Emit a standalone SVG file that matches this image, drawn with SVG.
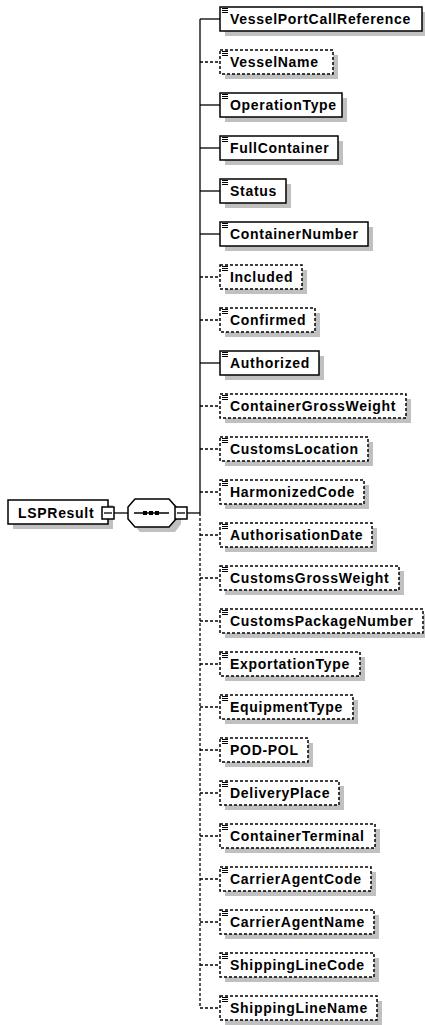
<svg xmlns="http://www.w3.org/2000/svg" width="425" height="1025" viewBox="0 0 425 1025">
<style>
.bg{fill:#ffffff}
.sh{fill:#c0c0c0}
.box{fill:#ffffff;stroke:#000000;stroke-width:1.5}
.opt{stroke-dasharray:3,2}
.ic{stroke:#000000;stroke-width:1;fill:none}
.t{font-family:"Liberation Sans",Arial,sans-serif;font-weight:bold;font-size:14px;letter-spacing:0.7px;fill:#000000}
.ln{stroke:#000000;stroke-width:1.3;fill:none}
.dl{stroke-dasharray:3,2}
.dot{fill:#000000}
</style>
<defs>
<path id="icon" d="M2,1.5h6M2,3.5h6M2,5.5h6" class="ic"/>
</defs>
<rect class="bg" x="0" y="0" width="425" height="1025"/>
<g id="connectors">
<line class="ln" x1="114" y1="513" x2="128" y2="513"/>
<line class="ln" x1="187" y1="513" x2="200" y2="513"/>
<line class="ln" x1="200" y1="19" x2="200" y2="513"/>
<line class="ln dl" x1="200" y1="513" x2="200" y2="1008"/>
<line class="ln" x1="200" y1="19" x2="220" y2="19"/>
<line class="ln dl" x1="200" y1="62" x2="220" y2="62"/>
<line class="ln" x1="200" y1="105" x2="220" y2="105"/>
<line class="ln" x1="200" y1="148" x2="220" y2="148"/>
<line class="ln" x1="200" y1="191" x2="220" y2="191"/>
<line class="ln" x1="200" y1="234" x2="220" y2="234"/>
<line class="ln dl" x1="200" y1="277" x2="220" y2="277"/>
<line class="ln dl" x1="200" y1="320" x2="220" y2="320"/>
<line class="ln" x1="200" y1="363" x2="220" y2="363"/>
<line class="ln dl" x1="200" y1="406" x2="220" y2="406"/>
<line class="ln dl" x1="200" y1="449" x2="220" y2="449"/>
<line class="ln dl" x1="200" y1="492" x2="220" y2="492"/>
<line class="ln dl" x1="200" y1="535" x2="220" y2="535"/>
<line class="ln dl" x1="200" y1="578" x2="220" y2="578"/>
<line class="ln dl" x1="200" y1="621" x2="220" y2="621"/>
<line class="ln dl" x1="200" y1="664" x2="220" y2="664"/>
<line class="ln dl" x1="200" y1="707" x2="220" y2="707"/>
<line class="ln dl" x1="200" y1="750" x2="220" y2="750"/>
<line class="ln dl" x1="200" y1="793" x2="220" y2="793"/>
<line class="ln dl" x1="200" y1="836" x2="220" y2="836"/>
<line class="ln dl" x1="200" y1="879" x2="220" y2="879"/>
<line class="ln dl" x1="200" y1="922" x2="220" y2="922"/>
<line class="ln dl" x1="200" y1="965" x2="220" y2="965"/>
<line class="ln dl" x1="200" y1="1008" x2="220" y2="1008"/>
</g>
<g id="LSPResult">
<rect class="sh" x="13" y="505" width="100" height="24"/>
<rect class="box" x="8" y="500" width="100" height="24"/>
<text class="t" x="18" y="518">LSPResult</text>
<rect class="box" x="102" y="507" width="12" height="12"/>
<line class="ln" x1="104" y1="513" x2="112" y2="513"/>
</g>
<g id="sequence">
<polygon class="sh" points="140,504 175,504 181,512 181,524 175,532 140,532 133,524 133,512"/>
<polygon class="box" points="135,499 169,499 176,507 176,519 169,527 135,527 128,519 128,507"/>
<line class="ln" x1="134" y1="513" x2="169" y2="513"/>
<rect class="dot" x="143" y="511" width="4" height="4"/>
<rect class="dot" x="149" y="511" width="4" height="4"/>
<rect class="dot" x="155" y="511" width="4" height="4"/>
<rect class="box" x="175" y="507" width="12" height="12"/>
<line class="ln" x1="177" y1="513" x2="185" y2="513"/>
</g>
<g id="VesselPortCallReference"><rect class="sh" x="225" y="12" width="202" height="24"/><rect class="box" x="220" y="7" width="202" height="24"/><use href="#icon" x="220" y="7"/><text class="t" x="230" y="24">VesselPortCallReference</text></g>
<g id="VesselName"><rect class="sh" x="225" y="55" width="113" height="24"/><rect class="box opt" x="220" y="50" width="113" height="24"/><use href="#icon" x="220" y="50"/><text class="t" x="230" y="67">VesselName</text></g>
<g id="OperationType"><rect class="sh" x="225" y="98" width="122" height="24"/><rect class="box" x="220" y="93" width="122" height="24"/><use href="#icon" x="220" y="93"/><text class="t" x="230" y="110">OperationType</text></g>
<g id="FullContainer"><rect class="sh" x="225" y="141" width="118" height="24"/><rect class="box" x="220" y="136" width="118" height="24"/><use href="#icon" x="220" y="136"/><text class="t" x="230" y="153">FullContainer</text></g>
<g id="Status"><rect class="sh" x="225" y="184" width="66" height="24"/><rect class="box" x="220" y="179" width="66" height="24"/><use href="#icon" x="220" y="179"/><text class="t" x="230" y="196">Status</text></g>
<g id="ContainerNumber"><rect class="sh" x="225" y="227" width="148" height="24"/><rect class="box" x="220" y="222" width="148" height="24"/><use href="#icon" x="220" y="222"/><text class="t" x="230" y="239">ContainerNumber</text></g>
<g id="Included"><rect class="sh" x="225" y="270" width="82" height="24"/><rect class="box opt" x="220" y="265" width="82" height="24"/><use href="#icon" x="220" y="265"/><text class="t" x="230" y="282">Included</text></g>
<g id="Confirmed"><rect class="sh" x="225" y="313" width="95" height="24"/><rect class="box opt" x="220" y="308" width="95" height="24"/><use href="#icon" x="220" y="308"/><text class="t" x="230" y="325">Confirmed</text></g>
<g id="Authorized"><rect class="sh" x="225" y="356" width="99" height="24"/><rect class="box" x="220" y="351" width="99" height="24"/><use href="#icon" x="220" y="351"/><text class="t" x="230" y="368">Authorized</text></g>
<g id="ContainerGrossWeight"><rect class="sh" x="225" y="399" width="186" height="24"/><rect class="box opt" x="220" y="394" width="186" height="24"/><use href="#icon" x="220" y="394"/><text class="t" x="230" y="411">ContainerGrossWeight</text></g>
<g id="CustomsLocation"><rect class="sh" x="225" y="442" width="148" height="24"/><rect class="box opt" x="220" y="437" width="148" height="24"/><use href="#icon" x="220" y="437"/><text class="t" x="230" y="454">CustomsLocation</text></g>
<g id="HarmonizedCode"><rect class="sh" x="225" y="485" width="144" height="24"/><rect class="box opt" x="220" y="480" width="144" height="24"/><use href="#icon" x="220" y="480"/><text class="t" x="230" y="497">HarmonizedCode</text></g>
<g id="AuthorisationDate"><rect class="sh" x="225" y="528" width="152" height="24"/><rect class="box opt" x="220" y="523" width="152" height="24"/><use href="#icon" x="220" y="523"/><text class="t" x="230" y="540">AuthorisationDate</text></g>
<g id="CustomsGrossWeight"><rect class="sh" x="225" y="571" width="179" height="24"/><rect class="box opt" x="220" y="566" width="179" height="24"/><use href="#icon" x="220" y="566"/><text class="t" x="230" y="583">CustomsGrossWeight</text></g>
<g id="CustomsPackageNumber"><rect class="sh" x="225" y="614" width="203" height="24"/><rect class="box opt" x="220" y="609" width="203" height="24"/><use href="#icon" x="220" y="609"/><text class="t" x="230" y="626">CustomsPackageNumber</text></g>
<g id="ExportationType"><rect class="sh" x="225" y="657" width="140" height="24"/><rect class="box opt" x="220" y="652" width="140" height="24"/><use href="#icon" x="220" y="652"/><text class="t" x="230" y="669">ExportationType</text></g>
<g id="EquipmentType"><rect class="sh" x="225" y="700" width="133" height="24"/><rect class="box opt" x="220" y="695" width="133" height="24"/><use href="#icon" x="220" y="695"/><text class="t" x="230" y="712">EquipmentType</text></g>
<g id="POD-POL"><rect class="sh" x="225" y="743" width="88" height="24"/><rect class="box opt" x="220" y="738" width="88" height="24"/><use href="#icon" x="220" y="738"/><text class="t" x="230" y="755">POD-POL</text></g>
<g id="DeliveryPlace"><rect class="sh" x="225" y="786" width="119" height="24"/><rect class="box opt" x="220" y="781" width="119" height="24"/><use href="#icon" x="220" y="781"/><text class="t" x="230" y="798">DeliveryPlace</text></g>
<g id="ContainerTerminal"><rect class="sh" x="225" y="829" width="155" height="24"/><rect class="box opt" x="220" y="824" width="155" height="24"/><use href="#icon" x="220" y="824"/><text class="t" x="230" y="841">ContainerTerminal</text></g>
<g id="CarrierAgentCode"><rect class="sh" x="225" y="872" width="151" height="24"/><rect class="box opt" x="220" y="867" width="151" height="24"/><use href="#icon" x="220" y="867"/><text class="t" x="230" y="884">CarrierAgentCode</text></g>
<g id="CarrierAgentName"><rect class="sh" x="225" y="915" width="154" height="24"/><rect class="box opt" x="220" y="910" width="154" height="24"/><use href="#icon" x="220" y="910"/><text class="t" x="230" y="927">CarrierAgentName</text></g>
<g id="ShippingLineCode"><rect class="sh" x="225" y="958" width="154" height="24"/><rect class="box opt" x="220" y="953" width="154" height="24"/><use href="#icon" x="220" y="953"/><text class="t" x="230" y="970">ShippingLineCode</text></g>
<g id="ShippingLineName"><rect class="sh" x="225" y="1001" width="157" height="24"/><rect class="box opt" x="220" y="996" width="157" height="24"/><use href="#icon" x="220" y="996"/><text class="t" x="230" y="1013">ShippingLineName</text></g>
</svg>
